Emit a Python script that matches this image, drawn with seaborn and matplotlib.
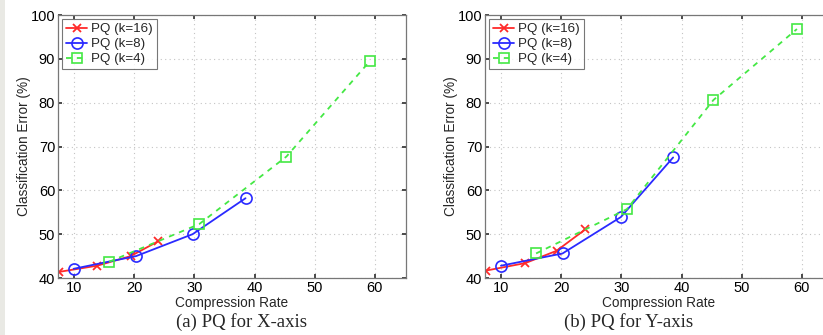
import matplotlib
matplotlib.use("Agg")
import matplotlib.pyplot as plt
import seaborn as sns
import pandas as pd

# ---- data ----
series_names = ["PQ (k=16)", "PQ (k=8)", "PQ (k=4)"]

x_k16_a = [7.5, 13.8, 19.4, 24.0]
y_k16_a = [41.4, 42.8, 45.0, 48.4]
x_k8_a = [9.9, 20.3, 29.7, 38.5]
y_k8_a = [42.1, 45.0, 50.0, 58.2]
x_k4_a = [15.8, 30.8, 45.3, 59.2]
y_k4_a = [43.7, 52.3, 67.7, 89.5]

x_k16_b = [7.5, 14.0, 19.2, 24.0]
y_k16_b = [41.7, 43.4, 46.2, 51.1]
x_k8_b = [9.95, 20.2, 29.9, 38.6]
y_k8_b = [42.8, 45.6, 53.9, 67.5]
x_k4_b = [15.8, 30.9, 45.3, 59.2]
y_k4_b = [45.6, 55.7, 80.6, 96.8]

x_ticks = [10, 20, 30, 40, 50, 60]
y_ticks = [40, 50, 60, 70, 80, 90, 100]
captions = ["(a) PQ for X-axis", "(b) PQ for Y-axis"]

sns.set_theme(style="white")
plt.rcParams['font.family'] = ['Liberation Sans', 'DejaVu Sans']

fig = plt.figure(figsize=(8.23, 3.35), dpi=100)
fig.patch.set_facecolor("white")
# light gray left margin band from the page scan
fig.add_artist(plt.Rectangle((0, 0), 5 / 823, 1, transform=fig.transFigure,
                             facecolor="#e9e9e4", edgecolor="none", zorder=0))

styles = [
    dict(color="#ff2a2a", marker="x", linestyle="-", markersize=6, mew=1.3,
         mfc="none"),
    dict(color="#2a2aff", marker="o", linestyle="-", markersize=8, mew=1.2,
         mfc="none"),
    dict(color="#44e844", marker="s", linestyle=(0, (3, 3)), markersize=7,
         mew=1.2, mfc="none"),
]

panels = [
    [(x_k16_a, y_k16_a), (x_k8_a, y_k8_a), (x_k4_a, y_k4_a)],
    [(x_k16_b, y_k16_b), (x_k8_b, y_k8_b), (x_k4_b, y_k4_b)],
]
positions = [[58 / 823, 57 / 335, 348 / 823, 263 / 335],
             [485 / 823, 57 / 335, 348 / 823, 263 / 335]]
caption_x = [241 / 823, 629 / 823]

for p, (data, pos) in enumerate(zip(panels, positions)):
    ax = fig.add_axes(pos)
    for name, (xs, ys), st in zip(series_names, data, styles):
        df = pd.DataFrame({"x": xs, "y": ys})
        sns.lineplot(data=df, x="x", y="y", ax=ax, label=name, lw=1.3,
                     color=st["color"], marker=st["marker"],
                     linestyle=st["linestyle"], markersize=st["markersize"],
                     markeredgewidth=st["mew"], markerfacecolor=st["mfc"],
                     markeredgecolor=st["color"], sort=False)
    ax.set_xlim(7.3, 65.2)
    ax.set_ylim(40, 100)
    ax.set_xticks(x_ticks)
    ax.set_yticks(y_ticks)
    ax.tick_params(direction="in", length=3, labelsize=10.5, colors="#333333",
                   top=True, right=True, bottom=True, left=True, pad=2)
    for lab in ax.get_xticklabels() + ax.get_yticklabels():
        lab.set_color("black")
    ax.grid(True, linestyle=(0, (1, 3)), color="#c4c4c4", lw=0.8)
    for s in ax.spines.values():
        s.set_color("#777777")
        s.set_linewidth(0.9)
        s.set_visible(True)
    ax.set_xlabel("Compression Rate", fontsize=9.8, labelpad=1)
    ax.set_ylabel("Classification Error (%)", fontsize=9.8, labelpad=0)
    leg = ax.legend(loc="upper left", fontsize=9.6, frameon=True, fancybox=False,
                    handlelength=1.6, handletextpad=0.3, borderpad=0.3,
                    labelspacing=0.2, borderaxespad=0.3)
    leg.get_frame().set_edgecolor("#555555")
    leg.get_frame().set_linewidth(0.8)
    fig.text(caption_x[p], 13 / 335, captions[p], ha="center", va="center",
             fontsize=13.5, family=["Liberation Serif", "DejaVu Serif"])

fig.savefig("out.png", dpi=100)
